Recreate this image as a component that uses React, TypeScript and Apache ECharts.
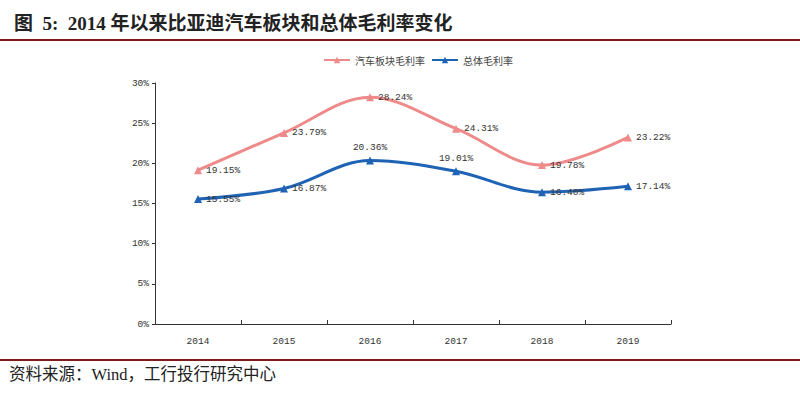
import React, { useEffect, useRef } from "react";
import * as echarts from "echarts";

const years = ["2014", "2015", "2016", "2017", "2018", "2019"];
const autoMargin = [19.15, 23.79, 28.24, 24.31, 19.78, 23.22];
const totalMargin = [15.55, 16.87, 20.36, 19.01, 16.4, 17.14];
const totalLabelPos = ["right", "right", "top", "top", "right", "right"];
const seriesNames = ["汽车板块毛利率", "总体毛利率"];
const titleText = "图  5:  2014 年以来比亚迪汽车板块和总体毛利率变化";
const sourceText = "资料来源：Wind，工行投行研究中心";

const PINK = "#EF8A8A";
const BLUE = "#1F63B5";
const DARKRED = "#7E1B1B";
const MONO = "Liberation Mono, DejaVu Sans Mono, monospace";

export default function App() {
  const ref = useRef<HTMLDivElement>(null);
  useEffect(() => {
    if (!ref.current) return;
    const chart = echarts.init(ref.current, undefined, { renderer: "svg" });
    const labelFmt = (p: any) => Number(p.value).toFixed(2) + "%";
    chart.setOption({
      animation: false,
      backgroundColor: "#fff",
      title: {
        text: titleText,
        left: 9,
        top: 9,
        textStyle: {
          fontFamily: "Liberation Serif, Noto Sans CJK SC, serif",
          fontWeight: "bold",
          fontSize: 19,
          color: "#222",
        },
      },
      graphic: [
        { type: "rect", shape: { x: 0, y: 39, width: 800, height: 2 }, style: { fill: DARKRED } },
        { type: "rect", shape: { x: 0, y: 359, width: 800, height: 2 }, style: { fill: DARKRED } },
        {
          type: "text",
          left: 9,
          top: 366,
          style: {
            text: sourceText,
            fontFamily: "Liberation Serif, Noto Sans CJK SC, serif",
            fontSize: 16.5,
            fill: "#222",
          },
        },
      ],
      legend: {
        top: 50,
        left: 318,
        itemWidth: 26,
        itemHeight: 8,
        itemGap: 6,
        textStyle: { fontSize: 10, color: "#444", fontFamily: "Noto Sans CJK SC" },
        data: seriesNames,
      },
      grid: { left: 155, right: 129, top: 83, bottom: 72 },
      xAxis: {
        type: "category",
        data: years,
        boundaryGap: true,
        axisLine: { lineStyle: { color: "#333", width: 1 } },
        axisTick: { show: true, inside: true, length: 4, lineStyle: { color: "#333" } },
        axisLabel: { fontSize: 9.5, color: "#333", fontFamily: MONO, margin: 12 },
      },
      yAxis: {
        type: "value",
        min: 0,
        max: 30,
        interval: 5,
        splitLine: { show: false },
        axisLine: { show: true, lineStyle: { color: "#333", width: 1 } },
        axisTick: { show: true, length: 3, lineStyle: { color: "#333" } },
        axisLabel: { formatter: "{value}%", fontSize: 9.5, color: "#333", fontFamily: MONO, margin: 6 },
      },
      series: [
        {
          name: seriesNames[0],
          type: "line",
          data: autoMargin,
          smooth: 0.35,
          symbol: "triangle",
          symbolSize: 8,
          itemStyle: { color: PINK },
          lineStyle: { color: PINK, width: 3 },
          label: {
            show: true,
            position: "right",
            distance: 4,
            formatter: labelFmt,
            fontSize: 9.5,
            color: "#333",
            fontFamily: MONO,
          },
        },
        {
          name: seriesNames[1],
          type: "line",
          data: totalMargin.map((v, i) => ({
            value: v,
            label: { position: totalLabelPos[i] },
          })),
          smooth: 0.35,
          symbol: "triangle",
          symbolSize: 8,
          itemStyle: { color: BLUE },
          lineStyle: { color: BLUE, width: 3 },
          label: {
            show: true,
            position: "right",
            distance: 4,
            formatter: labelFmt,
            fontSize: 9.5,
            color: "#333",
            fontFamily: MONO,
          },
        },
      ],
    });
    return () => chart.dispose();
  }, []);
  return (
    <div
      ref={ref}
      style={{ position: "absolute", left: 0, top: 0, width: 800, height: 396 }}
    />
  );
}
